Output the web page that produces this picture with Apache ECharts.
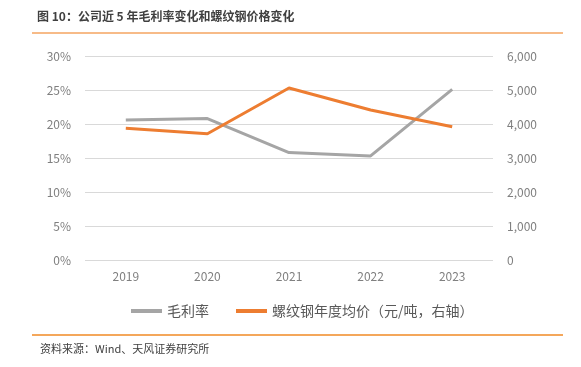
<!DOCTYPE html>
<html><head><meta charset="utf-8">
<script src="https://cdn.jsdelivr.net/npm/echarts@6/dist/echarts.min.js"></script>
<style>html,body{margin:0;padding:0;background:#fff}#c{width:581px;height:367px}</style>
</head><body><div id="c"></div>
<script>
const years = ['2019','2020','2021','2022','2023'];
const grossMargin = [20.6, 20.8, 15.8, 15.3, 25.1];
const rebarPrice = [3873, 3715, 5059, 4412, 3921];
const leftTicks = [0, 5, 10, 15, 20, 25, 30];
const rightTicks = [0, 1000, 2000, 3000, 4000, 5000, 6000];

const font = "'Noto Sans CJK SC', 'Liberation Sans', sans-serif";
const chart = echarts.init(document.getElementById('c'), null, {renderer: 'canvas'});
chart.setOption({
  animation: false,
  textStyle: {fontFamily: font},
  graphic: [
    {type: 'text', left: 37, top: 10, style: {text: '图 10：公司近 5 年毛利率变化和螺纹钢价格变化', font: 'bold 12px ' + font, fill: '#404040'}},
    {type: 'line', shape: {x1: 32, y1: 33, x2: 563, y2: 33}, style: {stroke: '#f4a460', lineWidth: 1.5}},
    {type: 'line', shape: {x1: 32, y1: 335, x2: 563, y2: 335}, style: {stroke: '#f08a24', lineWidth: 1.5}},
    {type: 'text', left: 40, top: 343, style: {text: '资料来源：Wind、天风证券研究所', font: '11px ' + font, fill: '#404040'}}
  ],
  grid: {left: 85, right: 88, top: 56, bottom: 107},
  legend: {
    top: 299, left: 126,
    itemWidth: 31, itemHeight: 4, itemGap: 27,
    icon: 'rect',
    textStyle: {color: '#595959', fontSize: 14, fontFamily: font},
    data: ['毛利率', '螺纹钢年度均价（元/吨，右轴）']
  },
  xAxis: {
    type: 'category', data: years, boundaryGap: true,
    axisLine: {show: false}, axisTick: {show: false},
    axisLabel: {color: '#7f7f7f', fontSize: 12, margin: 10}
  },
  yAxis: [
    {type: 'value', min: 0, max: 30, interval: 5,
     axisLabel: {formatter: '{value}%', color: '#7f7f7f', fontSize: 12, margin: 14},
     axisLine: {show: false}, axisTick: {show: false},
     splitLine: {lineStyle: {color: '#d9d9d9', width: 1}}},
    {type: 'value', min: 0, max: 6000, interval: 1000,
     axisLabel: {formatter: v => v.toLocaleString('en-US'), color: '#7f7f7f', fontSize: 12, margin: 14},
     axisLine: {show: false}, axisTick: {show: false},
     splitLine: {show: false}}
  ],
  series: [
    {name: '毛利率', type: 'line', data: grossMargin, yAxisIndex: 0, symbol: 'none',
     lineStyle: {color: '#a5a5a5', width: 3}, itemStyle: {color: '#a5a5a5'}},
    {name: '螺纹钢年度均价（元/吨，右轴）', type: 'line', data: rebarPrice, yAxisIndex: 1, symbol: 'none',
     lineStyle: {color: '#ed7d31', width: 3}, itemStyle: {color: '#ed7d31'}}
  ]
});
</script></body></html>
